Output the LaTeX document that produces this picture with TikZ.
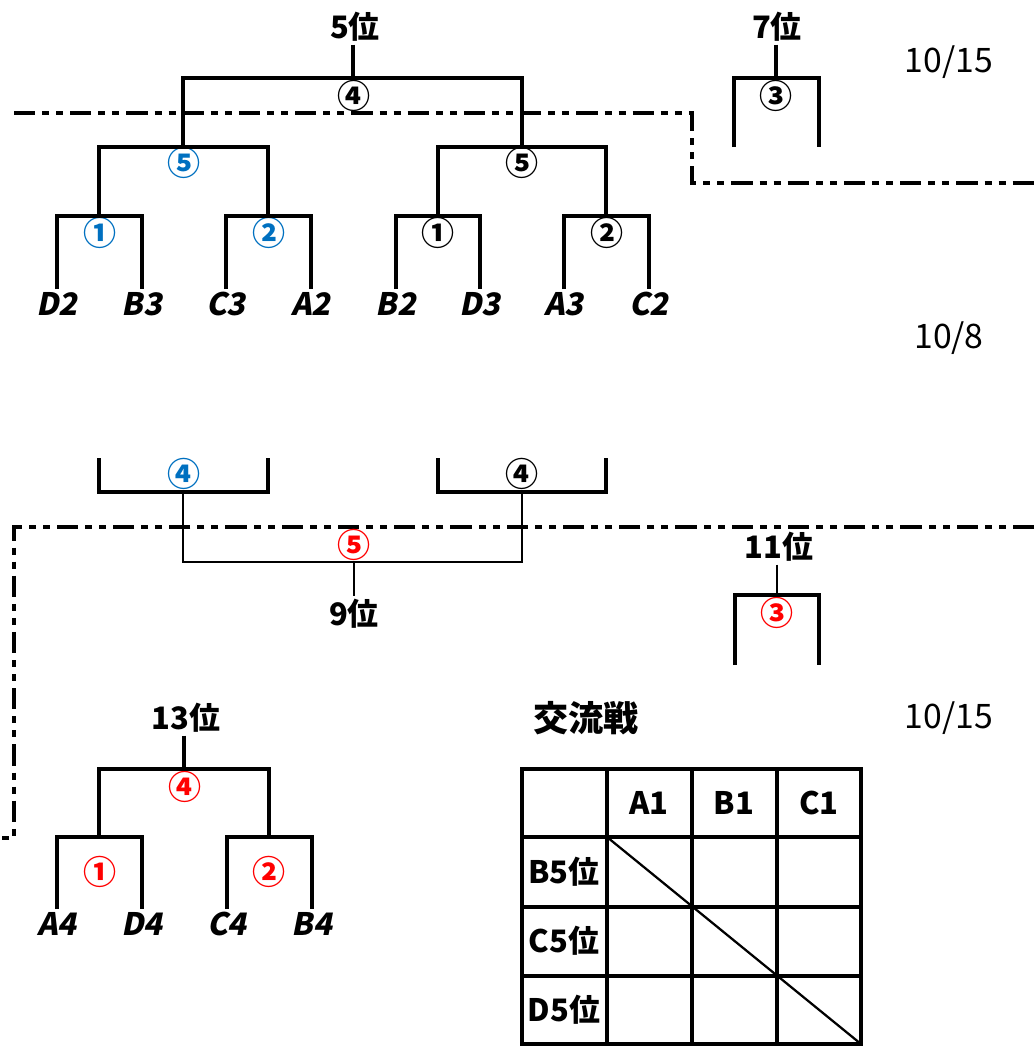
\documentclass[tikz,border=0pt]{standalone}
\usepackage{fontspec}
\newfontfamily\jpfont{Noto Sans CJK JP}
\newfontfamily\jpslfont[FakeSlant=0.2]{Noto Sans CJK JP}
\definecolor{matchblue}{RGB}{0,112,192}
\tikzset{
  bline/.style={line width=2.2pt},
  sepline/.style={line width=3.2pt, dash pattern=on 15pt off 5pt on 5pt off 5pt on 5pt off 5pt},
  rank/.style={font=\jpfont\bfseries\fontsize{22}{26}\selectfont, inner sep=2pt},
  match/.style={font=\jpfont\bfseries\fontsize{23.5}{28}\selectfont, inner sep=0pt},
  team/.style={font=\jpslfont\bfseries\fontsize{22}{26}\selectfont, anchor=north, inner sep=2pt},
  date/.style={font=\jpfont\fontsize{24}{28}\selectfont},
}

\begin{document}
\begin{tikzpicture}[x=0.025cm, y=-0.025cm]
            \useasboundingbox (0,0) rectangle (1034,1046);

            % Separators
            \draw[sepline] (14,113) -- (692,113) -- (692,183) -- (1034,183);
            \draw[sepline] (1034,527) -- (14,527) -- (14,838) -- (0,838);

            % Dates
            \node[date] (d1) at (949,62) {10/15};
            \node[date] (d2) at (949,338) {10/8};
            \node[date] (d3) at (949,718) {10/15};

            % Upper bracket: nodes
            \node[rank] (r5) at (355,27) {5位};
            \node[match] (m4) at (354,96) {④};
            \node[match, matchblue] (m5a) at (184,163) {⑤};
            \node[match] (m5b) at (522,163) {⑤};
            \node[match, matchblue] (m1a) at (100,233) {①};
            \node[match, matchblue] (m2a) at (269,233) {②};
            \node[match] (m1b) at (438,233) {①};
            \node[match] (m2b) at (607,233) {②};
            \node[team] (D2) at (57,289) {D2};
            \node[team] (B3) at (142,289) {B3};
            \node[team] (C3) at (226,289) {C3};
            \node[team] (A2) at (311,289) {A2};
            \node[team] (B2) at (396,289) {B2};
            \node[team] (D3) at (480,289) {D3};
            \node[team] (A3) at (564,289) {A3};
            \node[team] (C2) at (649,289) {C2};
            \coordinate (jt) at (353,78);
            \coordinate (ja) at (183,147);
            \coordinate (jb) at (522,147);
            \coordinate (j1) at (99,216);
            \coordinate (j2) at (268,216);
            \coordinate (j3) at (438,216);
            \coordinate (j4) at (606,216);

            % Upper bracket: edges
            \draw[bline] (r5.south -| jt) -- (jt);
            \draw[bline] (ja) |- (jt) -| (jb);
            \draw[bline] (j1) |- (ja) -| (j2);
            \draw[bline] (j3) |- (jb) -| (j4);
            \draw[bline] (D2.north) |- (j1) -| (B3.north);
            \draw[bline] (C3.north) |- (j2) -| (A2.north);
            \draw[bline] (B2.north) |- (j3) -| (D3.north);
            \draw[bline] (A3.north) |- (j4) -| (C2.north);

            % 7th place
            \node[rank] (r7) at (777,27) {7位};
            \node[match] (m3) at (776,96) {③};
            \coordinate (k7) at (776,78);
            \coordinate (k7l) at (734,147);
            \coordinate (k7r) at (819,147);
            \draw[bline] (r7.south -| k7) -- (k7);
            \draw[bline] (k7l) |- (k7) -| (k7r);

            % 9th place
            \node[match, matchblue] (m4a) at (184,474) {④};
            \node[match] (m4b) at (522,474) {④};
            \node[match, red] (m5c) at (354,545) {⑤};
            \node[rank] (r9) at (354,614) {9位};
            \coordinate (la) at (99,458);
            \coordinate (lb) at (268,458);
            \coordinate (lc) at (438,458);
            \coordinate (ld) at (606,458);
            \coordinate (ka) at (183,492);
            \coordinate (kb) at (522,492);
            \coordinate (k9) at (354,562);
            \draw[bline] (la) |- (ka) -| (lb);
            \draw[bline] (lc) |- (kb) -| (ld);
            \draw[line width=1.6pt] (ka) |- (k9) -| (kb);
            \draw[line width=1.6pt] (k9) -- (r9.north -| k9);

            % 11th place
            \node[rank] (r11) at (779,547) {11位};
            \node[match, red] (m3c) at (777,613) {③};
            \coordinate (k11) at (777,595);
            \coordinate (k11l) at (735,665);
            \coordinate (k11r) at (819,665);
            \draw[line width=1.6pt] (r11.south -| k11) -- (k11);
            \draw[bline] (k11l) |- (k11) -| (k11r);

            % 13th place
            \node[rank] (r13) at (186,718) {13位};
            \node[match, red] (m4c) at (185,787) {④};
            \node[match, red] (m1c) at (100,872) {①};
            \node[match, red] (m2c) at (269,872) {②};
            \node[team] (A4) at (57,909) {A4};
            \node[team] (D4) at (142,909) {D4};
            \node[team] (C4) at (227,909) {C4};
            \node[team] (B4) at (312,909) {B4};
            \coordinate (k13) at (184,769);
            \coordinate (kc) at (99,837);
            \coordinate (kd) at (269,837);
            \draw[bline] (r13.south -| k13) -- (k13);
            \draw[bline] (kc) |- (k13) -| (kd);
            \draw[bline] (A4.north) |- (kc) -| (D4.north);
            \draw[bline] (C4.north) |- (kd) -| (B4.north);

            % Interleague table
            \node[rank, font=\jpfont\bfseries\fontsize{25}{30}\selectfont] (title) at (586,718) {交流戦};
            \draw[bline] (522,769) rectangle (861,1044);
            \foreach \x in {607,692,777} \draw[bline] (\x,769) -- (\x,1044);
            \foreach \y in {837,907,976} \draw[bline] (522,\y) -- (861,\y);
            \draw[line width=1.6pt] (607,837) -- (861,1044);
            \node[rank] (hA1) at (649,803) {A1};
            \node[rank] (hB1) at (734,803) {B1};
            \node[rank] (hC1) at (819,803) {C1};
            \node[rank] (hB5) at (564,872) {B5位};
            \node[rank] (hC5) at (564,941) {C5位};
            \node[rank] (hD5) at (564,1010) {D5位};
        \end{tikzpicture}
\end{document}
